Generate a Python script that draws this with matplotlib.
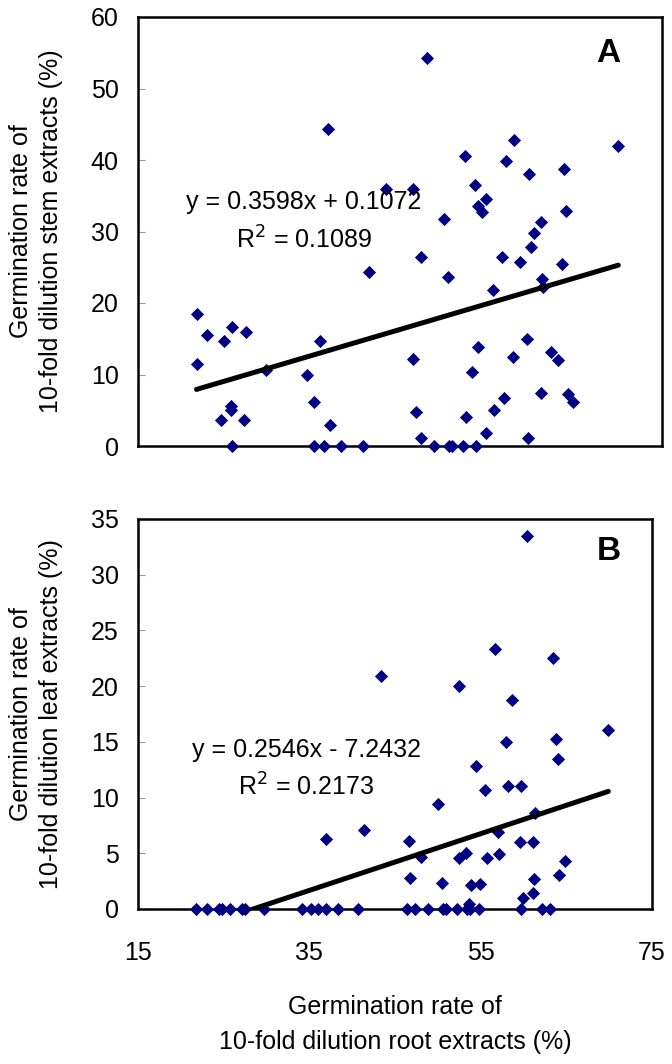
import numpy as np
import matplotlib
matplotlib.use("Agg")
from matplotlib import pyplot as plt

plt.rcParams['font.family'] = ['Liberation Sans', 'DejaVu Sans']

# panel A: root extract (x) vs stem extract (y)
root_a = [36.8, 43.4, 41.5, 21.7, 22.9, 24.8, 25.8, 27.4, 35.8, 21.8,
          29.7, 34.3, 35.2, 25.6, 25.6, 24.5, 27.1, 37.0, 25.8, 35.2,
          36.3, 38.3, 40.8,
          48.1, 58.1, 70.0, 52.5, 57.1, 59.8, 63.8, 46.5, 53.6, 54.9,
          53.9, 54.4, 50.0, 64.0, 61.1, 60.4, 60.0, 47.4, 56.7, 58.7,
          63.5, 50.5, 61.3, 61.4, 55.6, 53.9, 59.5, 46.5, 57.9, 62.3,
          63.1, 53.2, 46.8, 52.6, 55.8, 56.9, 61.1, 64.2, 64.8, 54.9,
          47.4, 59.7, 48.9, 50.6, 50.9, 52.2, 53.7]
stem_a = [44.4, 36.0, 24.4, 18.5, 15.5, 14.7, 16.7, 15.9, 14.7, 11.4,
          10.6, 9.9, 6.2, 5.6, 5.0, 3.6, 3.6, 3.0, 0, 0,
          0, 0, 0,
          54.2, 42.8, 41.9, 40.6, 39.9, 38.0, 38.8, 36.0, 36.5, 34.6,
          33.6, 32.7, 31.7, 32.8, 31.3, 29.8, 27.9, 26.5, 26.5, 25.8,
          25.5, 23.7, 23.4, 22.3, 21.8, 13.9, 14.9, 12.1, 12.4, 13.1,
          12.0, 10.4, 4.8, 4.0, 5.1, 6.7, 7.4, 7.3, 6.1, 1.8,
          1.1, 1.1, 0, 0, 0, 0, 0]

# panel B: root extract (x) vs leaf extract (y)
root_b = [43.4, 36.9, 41.4,
          21.8, 23.0, 24.4, 24.8, 25.7, 27.1, 27.5, 29.7, 34.2, 35.2,
          36.0, 37.0, 38.3, 40.7,
          60.4, 56.7, 63.5, 52.5, 58.6, 69.9, 63.8, 57.9, 64.0, 54.4,
          55.5, 58.2, 59.7, 50.0, 61.3, 57.0, 46.6, 59.6, 61.1, 48.0,
          52.5, 53.3, 55.7, 57.1, 64.9, 46.7, 50.5, 53.9, 54.9, 61.2,
          64.2, 59.9, 61.1, 53.6,
          46.4, 47.3, 48.9, 50.6, 50.9, 52.2, 53.4, 53.8, 54.8, 59.7,
          62.2, 63.1]
leaf_b = [20.9, 6.3, 7.1,
          0, 0, 0, 0, 0, 0, 0, 0, 0, 0,
          0, 0, 0, 0,
          33.5, 23.3, 22.5, 20.0, 18.8, 16.1, 15.3, 15.0, 13.5, 12.8,
          10.7, 11.0, 11.0, 9.4, 8.6, 6.9, 6.1, 6.0, 6.0, 4.7,
          4.55, 5.0, 4.55, 4.9, 4.3, 2.75, 2.3, 2.15, 2.2, 2.7,
          3.05, 1.0, 1.4, 0.45,
          0, 0, 0, 0, 0, 0, 0, 0, 0, 0,
          0, 0]

fit_a = (0.3598, 0.1072)
fit_b = (0.2546, -7.2432)
eq_a = ["y = 0.3598x + 0.1072", "R$^2$ = 0.1089"]
eq_b = ["y = 0.2546x - 7.2432", "R$^2$ = 0.2173"]

W, H = 672, 1064
fig = plt.figure(figsize=(W / 100, H / 100), dpi=100)

def px_axes(l, r, t, b):
    return fig.add_axes([l / W, 1 - b / H, (r - l) / W, (b - t) / H])

axA = px_axes(138, 662, 17, 446)
axB = px_axes(138, 652, 519, 909)

FS = 18

def style(ax, ymax, ystep, label2):
    ax.set_xlim(15, 75)
    ax.set_ylim(0, ymax)
    ax.set_yticks(np.arange(0, ymax + 0.1, ystep))
    ax.set_xticks([15, 35, 55, 75])
    for s in ax.spines.values():
        s.set_linewidth(1.8)
        s.set_color('black')
    ax.tick_params(axis='y', direction='in', length=5, width=0.8,
                   color='#999999', labelsize=FS, pad=14)
    ax.tick_params(axis='x', length=0, labelsize=FS, pad=23)
    ax.set_ylabel("Germination rate of\n" + label2, fontsize=FS,
                  linespacing=1.3, labelpad=20)

for ax, xs, ys, fit, eq, ymax, ystep, lab, letter, lx, ex, ey in [
        (axA, root_a, stem_a, fit_a, eq_a, 60, 10,
         "10-fold dilution stem extracts (%)", "A", 0.897, 0.317, (0.569, 0.480)),
        (axB, root_b, leaf_b, fit_b, eq_b, 35, 5,
         "10-fold dilution leaf extracts (%)", "B", 0.916, 0.327, (0.408, 0.313))]:
    ax.scatter(xs, ys, marker='D', s=45, color='#000080', zorder=3,
               clip_on=False, linewidths=0)
    xl = np.array([min(xs), max(xs)])
    ax.plot(xl, fit[0] * xl + fit[1], color='black', lw=3.6, zorder=4,
            solid_capstyle='round')
    ax.text(ex, ey[0], eq[0], transform=ax.transAxes, ha='center',
            va='center', fontsize=FS)
    ax.text(ex, ey[1], eq[1], transform=ax.transAxes, ha='center',
            va='center', fontsize=FS)
    style(ax, ymax, ystep, lab)
    ax.text(lx, 0.916, letter, transform=ax.transAxes, ha='center',
            va='center', fontsize=24, fontweight='bold')

axA.tick_params(axis='x', labelbottom=False)
axB.set_xlabel("Germination rate of\n10-fold dilution root extracts (%)",
               fontsize=FS, linespacing=1.55, labelpad=22)

fig.savefig("out.png", dpi=100)
